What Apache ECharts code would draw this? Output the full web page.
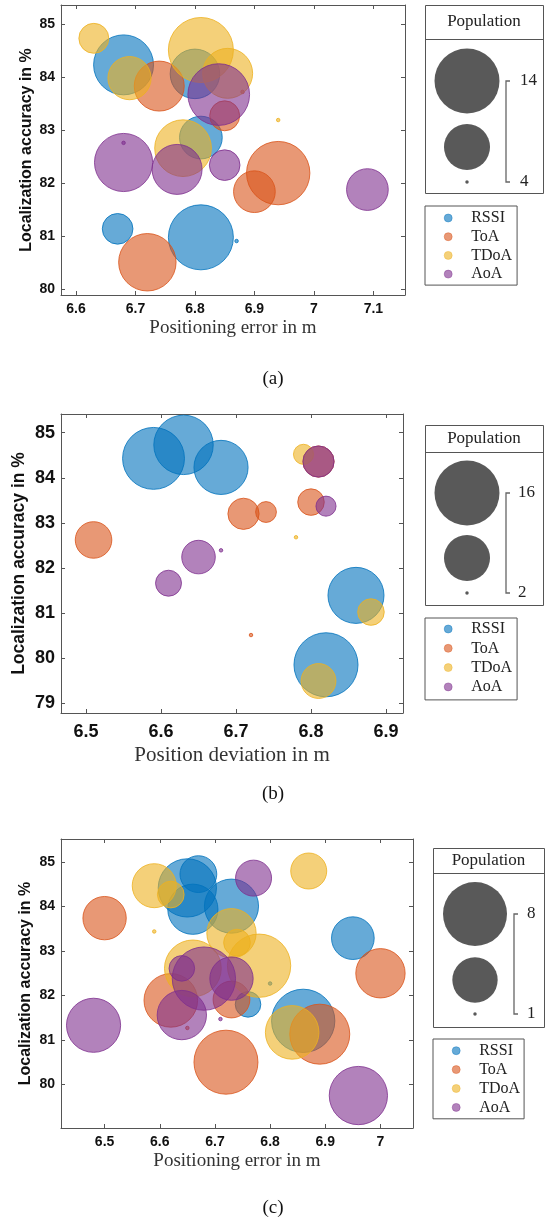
<!DOCTYPE html>
<html><head><meta charset="utf-8">
<script src="https://cdn.jsdelivr.net/npm/echarts@6/dist/echarts.min.js"></script>
<style>html,body{margin:0;padding:0;background:#fff}#c{width:545px;height:1223px}</style>
</head><body><div id="c"></div>
<script>
// ---------- DATA ----------
const methods = ['RSSI', 'ToA', 'TDoA', 'AoA'];
// each point: [position error (m), localization accuracy (%), population]
// Panel (a)
const rssiA = [[6.68,84.23,12.5],[6.80,84.06,9.8],[6.81,82.86,8.3],[6.67,81.14,6.2],[6.81,80.98,14],[6.87,80.91,4]];
const toaA  = [[6.74,83.83,9.9],[6.85,83.27,6.1],[6.90,81.84,8.1],[6.94,82.19,13.5],[6.72,80.51,11.8],[6.88,83.72,4]];
const tdoaA = [[6.63,84.73,6.1],[6.81,84.51,14],[6.855,84.07,9.9],[6.69,83.98,8.4],[6.78,82.66,11.6],[6.94,83.19,4]];
const aoaA  = [[6.84,83.67,13],[6.68,82.39,12],[6.77,82.26,9.9],[6.85,82.34,6.2],[7.09,81.88,8.1],[6.68,82.76,4]];
// Panel (b)
const rssiB = [[6.59,84.43,14.7],[6.63,84.73,13.7],[6.68,84.23,11.7],[6.86,81.39,12.4],[6.82,79.85,15.6]];
const toaB  = [[6.51,82.62,6.4],[6.71,83.20,5.2],[6.74,83.24,3.4],[6.80,83.46,4.3],[6.72,80.51,2],[6.81,84.36,5.2]];
const tdoaB = [[6.79,84.52,3.3],[6.78,82.68,2],[6.88,81.02,4.3],[6.81,79.49,6.0]];
const aoaB  = [[6.81,84.36,5.2],[6.82,83.37,3.3],[6.65,82.24,5.7],[6.61,81.66,4.2],[6.68,82.39,2]];
// Panel (c)
const rssiC = [[6.67,84.73,3.3],[6.65,84.42,6.8],[6.66,83.94,5.3],[6.73,84.01,6.0],[6.95,83.29,4.1],[6.86,81.43,7.85],[6.76,81.80,2.1],[6.80,82.27,1]];
const toaC  = [[6.50,83.74,4.2],[6.62,81.89,5.9],[6.73,81.91,3.3],[6.72,80.50,8],[6.89,81.13,7.15],[7.00,82.50,5.15],[6.65,81.27,1]];
const tdoaC = [[6.59,84.47,4.3],[6.62,84.27,2.2],[6.87,84.80,3.2],[6.73,83.40,5.15],[6.74,83.19,2.2],[6.78,82.67,7.85],[6.66,82.61,6.5],[6.84,81.17,5.9],[6.59,83.44,1]];
const aoaC  = [[6.77,84.64,3.2],[6.48,81.33,6.0],[6.96,79.75,6.8],[6.68,82.38,7.85],[6.64,82.61,2.1],[6.73,82.38,4.2],[6.64,81.56,5.15],[6.71,81.47,1]];
// population legend ranges
const popRangeA = [4, 14];
const popRangeB = [2, 16];
const popRangeC = [1, 8];
// tick labels
const xTicksA = [6.6, 6.7, 6.8, 6.9, 7, 7.1];
const yTicksA = [80, 81, 82, 83, 84, 85];
const xTicksB = [6.5, 6.6, 6.7, 6.8, 6.9];
const yTicksB = [79, 80, 81, 82, 83, 84, 85];
const xTicksC = [6.5, 6.6, 6.7, 6.8, 6.9, 7];
const yTicksC = [80, 81, 82, 83, 84, 85];
const xTitleA = 'Positioning error in m';
const xTitleB = 'Position deviation in m';
const xTitleC = 'Positioning error in m';
const yTitle = 'Localization accuracy in %';

// ---------- STYLE ----------
const colors = ['#0072BD', '#D95319', '#EDB120', '#7E2F8E'];
function rgba(hex, a){const n=parseInt(hex.slice(1),16);return 'rgba('+((n>>16)&255)+','+((n>>8)&255)+','+(n&255)+','+a+')';}
const DMIN = 3.5;
function diam(p, range, dmax){const t=(p-range[0])/(range[1]-range[0]);return Math.sqrt(DMIN*DMIN + t*(dmax*dmax-DMIN*DMIN));}
const serif = 'Liberation Serif';
const sans = 'Liberation Sans';
const AX = '#555';

const panels = [
  {grid:{left:61,top:5,width:344,height:290}, x:[6.5748,7.1532], y:[79.893,85.358], xt:xTicksA, yt:yTicksA,
   series:[rssiA,toaA,tdoaA,aoaA], range:popRangeA, dmax:65, tick:14, xm:7, xName:xTitleA, xNameSize:19, xGap:33, yNameSize:16, yGap:34},
  {grid:{left:61,top:414,width:342,height:299}, x:[6.4666,6.9227], y:[78.78,85.415], xt:xTicksB, yt:yTicksB,
   series:[rssiB,toaB,tdoaB,aoaB], range:popRangeB, dmax:65, tick:18, xm:10, xName:xTitleB, xNameSize:21, xGap:42, yNameSize:17.5, yGap:42},
  {grid:{left:61,top:839,width:352,height:289}, x:[6.421,7.059], y:[79.02,85.52], xt:xTicksC, yt:yTicksC,
   series:[rssiC,toaC,tdoaC,aoaC], range:popRangeC, dmax:64, tick:14, xm:7, xName:xTitleC, xNameSize:19, xGap:33, yNameSize:16, yGap:35}
];

const grid=[], xAxis=[], yAxis=[], series=[];
panels.forEach((P,i)=>{
  grid.push(Object.assign({containLabel:false}, P.grid));
  const tickStyle = {show:true, inside:true, length:4, lineStyle:{color:AX,width:1}};
  xAxis.push({type:'value', gridIndex:i, position:'bottom', min:P.x[0], max:P.x[1],
    axisLine:{show:true,onZero:false,lineStyle:{color:AX,width:1}},
    axisTick:Object.assign({customValues:P.xt}, tickStyle),
    axisLabel:{customValues:P.xt, margin:P.xm, color:'#111', fontFamily:sans, fontWeight:'bold', fontSize:P.tick, formatter:v=>String(v)},
    splitLine:{show:false},
    name:P.xName, nameLocation:'middle', nameGap:P.xGap, nameMoveOverlap:false,
    nameTextStyle:{fontFamily:serif, fontSize:P.xNameSize, color:'#333', verticalAlign:'middle'}});
  xAxis.push({type:'value', gridIndex:i, position:'top', min:P.x[0], max:P.x[1],
    axisLine:{show:true,onZero:false,lineStyle:{color:AX,width:1}},
    axisTick:Object.assign({customValues:P.xt}, tickStyle),
    axisLabel:{show:false}, splitLine:{show:false}});
  yAxis.push({type:'value', gridIndex:i, position:'left', min:P.y[0], max:P.y[1],
    axisLine:{show:true,onZero:false,lineStyle:{color:AX,width:1}},
    axisTick:Object.assign({customValues:P.yt}, tickStyle),
    axisLabel:{customValues:P.yt, margin:6, color:'#111', fontFamily:sans, fontWeight:'bold', fontSize:P.tick},
    splitLine:{show:false},
    name:yTitle, nameLocation:'middle', nameGap:P.yGap, nameRotate:90, nameMoveOverlap:false,
    nameTextStyle:{fontFamily:sans, fontWeight:'bold', fontSize:P.yNameSize, color:'#111', verticalAlign:'middle'}});
  yAxis.push({type:'value', gridIndex:i, position:'right', min:P.y[0], max:P.y[1],
    axisLine:{show:true,onZero:false,lineStyle:{color:AX,width:1}},
    axisTick:Object.assign({customValues:P.yt}, tickStyle),
    axisLabel:{show:false}, splitLine:{show:false}});
  P.series.forEach((d,k)=>{
    series.push({type:'scatter', name:methods[k], xAxisIndex:2*i, yAxisIndex:2*i, data:d,
      symbol:'circle', symbolSize:v=>diam(v[2], P.range, P.dmax),
      itemStyle:{color:rgba(colors[k],0.6), borderColor:colors[k], borderWidth:0.8, opacity:1},
      emphasis:{disabled:true}, animation:false});
  });
});

const legendText = {fontFamily:serif, fontSize:16, color:'#222', lineHeight:16, padding:[0,0,0,14]};
const legend = [
  {left:425, top:206, padding:[4,5,3,19], itemGap:2.7},
  {left:425, top:618, padding:[3,5,5,19], itemGap:3.3},
  {left:433, top:1039, padding:[3.7,4,3.4,19], itemGap:2.9}
].map(l=>Object.assign({orient:'vertical', data:methods, icon:'circle', itemWidth:8, itemHeight:8,
  itemStyle:{borderWidth:0.4},
  borderColor:AX, borderWidth:1, selectedMode:false, textStyle:legendText}, l));

// Population legend boxes
function popBox(b, range, dmax){
  const mid=(range[0]+range[1])/2;
  const els=[
    {type:'rect', shape:{x:b.x+0.5,y:b.y+0.5,width:b.w,height:b.h}, style:{fill:'#fff',stroke:AX,lineWidth:1}},
    {type:'line', shape:{x1:b.x,y1:b.div+0.5,x2:b.x+b.w,y2:b.div+0.5}, style:{stroke:AX,lineWidth:1}},
    {type:'text', x:b.x+b.w/2, y:(b.y+b.div)/2, style:{text:'Population', font:'17px "'+serif+'"', fill:'#222', align:'center', verticalAlign:'middle'}},
    {type:'circle', shape:{cx:b.cx, cy:b.cys[0], r:diam(range[1],range,dmax)/2}, style:{fill:'#595959'}},
    {type:'circle', shape:{cx:b.cx, cy:b.cys[1], r:diam(mid,range,dmax)/2}, style:{fill:'#595959'}},
    {type:'circle', shape:{cx:b.cx, cy:b.cys[2], r:diam(range[0],range,dmax)/2}, style:{fill:'#595959'}},
    {type:'polyline', shape:{points:[[b.bx+4,b.cys[0]],[b.bx,b.cys[0]],[b.bx,b.cys[2]],[b.bx+4,b.cys[2]]]}, style:{stroke:'#666',lineWidth:1.3,fill:null}},
    {type:'text', x:b.lx, y:b.cys[0], style:{text:String(range[1]), font:'17px "'+serif+'"', fill:'#222', verticalAlign:'middle'}},
    {type:'text', x:b.lx, y:b.cys[2], style:{text:String(range[0]), font:'17px "'+serif+'"', fill:'#222', verticalAlign:'middle'}}
  ];
  return els;
}
const graphic = [].concat(
  popBox({x:425,y:5,w:118,h:188,div:39,cx:467,cys:[81,147,182],bx:506,lx:520}, popRangeA, 65),
  popBox({x:425,y:425,w:118,h:180,div:452,cx:467,cys:[493,558,593],bx:506,lx:518}, popRangeB, 65),
  popBox({x:433,y:848,w:111,h:179,div:873,cx:475,cys:[914,980,1014],bx:514,lx:527}, popRangeC, 64),
  [['(a)',379],['(b)',794],['(c)',1208]].map(c=>({type:'text', x:273, y:c[1], style:{text:c[0], font:'19px "'+serif+'"', fill:'#111', align:'center', verticalAlign:'middle'}}))
);

const chart = echarts.init(document.getElementById('c'), null, {renderer:'canvas'});
chart.setOption({animation:false, backgroundColor:'#fff', grid, xAxis, yAxis, series, legend, graphic});
</script></body></html>
